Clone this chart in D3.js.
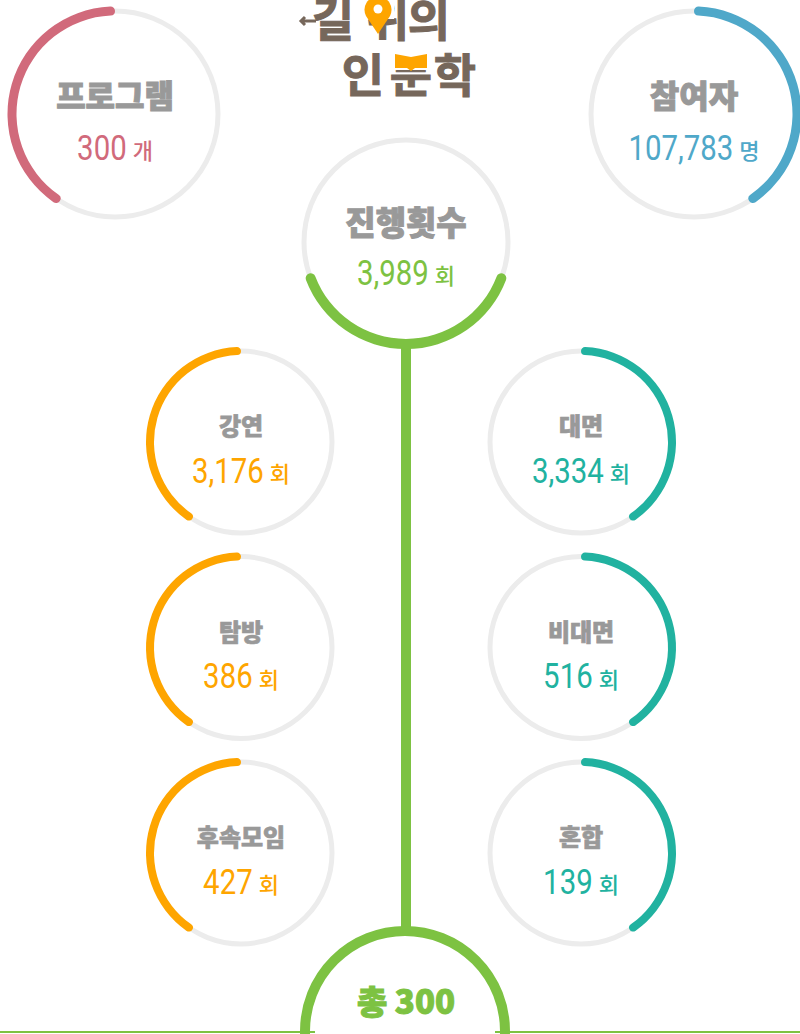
<!DOCTYPE html>
<html>
<head>
<meta charset="utf-8">
<script src="https://cdn.jsdelivr.net/npm/d3@7"></script>
<style>
  html, body { margin: 0; padding: 0; background: #fff; }
  svg { display: block; }
</style>
</head>
<body>
<script>
const width = 800,
  height = 1034;

// top row: programmes and participants
const summaryLabels = ["프로그램", "참여자"];
const summaryValues = [300, 107783];
const summaryUnits = ["개", "명"];

// centre: number of sessions
const totalLabel = "진행횟수";
const totalValue = 3989;

// left column (by type), right column (by format)
const typeLabels = ["강연", "탐방", "후속모임"];
const typeValues = [3176, 386, 427];
const formatLabels = ["대면", "비대면", "혼합"];
const formatValues = [3334, 516, 139];
const countUnit = "회";

const footerLabel = "총";
const footerValue = 300;

// logo, one syllable at a time
const logoTop = ["길", "위", "의"];
const logoBottom = ["인", "문", "학"];

// part of each ring that is coloured
const ringShare = 0.41;
const hubShare = 0.40;

const colors = {
  program: "#d16a7b",
  people: "#4fa8c9",
  total: "#7dc242",
  type: "#fea500",
  format: "#21b2a0",
  label: "#999999",
  track: "#ececec",
  logo: "#76675b",
  logoAccent: "#fea500"
};

const fmt = d3.format(",");
const angle = d3.scaleLinear().domain([0, 1]).range([0, 2 * Math.PI]);
const rowY = d3.scaleLinear().domain([0, 2]).range([442, 853]);

const svg = d3
  .select("body")
  .append("svg")
    .attr("width", width)
    .attr("height", height);

function ring(cx, cy, r, color, start, end, thick) {
  const half = thick / 2;
  const g = svg.append("g").attr("transform", "translate(" + cx + "," + cy + ")");

  g.append("circle")
    .attr("r", r)
    .attr("fill", "none")
    .attr("stroke", colors.track)
    .attr("stroke-width", 5);

  g.append("path")
    .attr("fill", color)
    .attr("d", d3.arc().cornerRadius(half)({
      innerRadius: r - half, outerRadius: r + half, startAngle: start, endAngle: end
    }));

  return g;
}

function label(g, y, text, size) {
  g.append("text")
    .attr("y", y)
    .attr("text-anchor", "middle")
    .attr("font-family", "'Noto Sans CJK KR', sans-serif")
    .attr("font-weight", 900)
    .attr("font-size", size)
    .attr("fill", colors.label)
    .attr("stroke", colors.label)
    .attr("stroke-width", size > 28 ? 1 : 0.7)
    .text(text);
}

// number in a narrow face + small unit, centred together
function value(g, y, v, unit, color) {
  const squeeze = 0.84;
  const num = g.append("text")
    .attr("transform", "scale(" + squeeze + ",1)")
    .attr("y", y)
    .attr("font-family", "Roboto, sans-serif")
    .attr("font-size", 35)
    .attr("fill", color)
    .text(fmt(v));
  const u = g.append("text")
    .attr("y", y - 1)
    .attr("font-family", "'Noto Sans CJK KR', sans-serif")
    .attr("font-weight", 500)
    .attr("font-size", 22)
    .attr("fill", color)
    .text(unit);

  const nw = num.node().getComputedTextLength() * squeeze,
    uw = u.node().getComputedTextLength(),
    gap = 6,
    left = -(nw + gap + uw) / 2;

  num.attr("x", left / squeeze);
  u.attr("x", left + nw + gap);
}

// --- top row
const topX = [115, 694];
summaryLabels.forEach((d, i) => {
  const c = i === 0 ? colors.program : colors.people;
  const sign = i === 0 ? -1 : 1;
  const g = ring(topX[i], 114, 103, c, 0, sign * angle(ringShare), 9);
  label(g, -6, d, 32);
  value(g, 46, summaryValues[i], summaryUnits[i], c);
});

// --- stem between hub and footer
svg.append("line")
  .attr("x1", 406).attr("x2", 406)
  .attr("y1", 340).attr("y2", 932)
  .attr("stroke", colors.total)
  .attr("stroke-width", 10);

// --- hub
const hubHalf = angle(hubShare) / 2;
const hub = ring(406, 242, 102, colors.total, Math.PI - hubHalf, Math.PI + hubHalf, 10);
label(hub, -7, totalLabel, 33);
value(hub, 43, totalValue, countUnit, colors.total);

// --- two columns
typeLabels.forEach((d, i) => {
  const g = ring(241, rowY(i), 91, colors.type, 0, -angle(ringShare), 8);
  label(g, -7, d, 24);
  value(g, 41, typeValues[i], countUnit, colors.type);
});

formatLabels.forEach((d, i) => {
  const g = ring(581, rowY(i), 91, colors.format, 0, angle(ringShare), 8);
  label(g, -7, d, 24);
  value(g, 41, formatValues[i], countUnit, colors.format);
});

// --- footer
const footR = 100, footX = 405, footY = 1031;
svg.append("line")
  .attr("x1", 0).attr("x2", footX - footR + 10)
  .attr("y1", 1032).attr("y2", 1032)
  .attr("stroke", colors.total).attr("stroke-width", 2);
svg.append("line")
  .attr("x1", footX + footR - 10).attr("x2", width)
  .attr("y1", 1032).attr("y2", 1032)
  .attr("stroke", colors.total).attr("stroke-width", 2);
svg.append("circle")
  .attr("cx", footX).attr("cy", footY).attr("r", footR)
  .attr("fill", "none")
  .attr("stroke", colors.total)
  .attr("stroke-width", 10);
svg.append("text")
  .attr("x", 406).attr("y", 1014)
  .attr("text-anchor", "middle")
  .attr("font-family", "'Noto Sans CJK KR', sans-serif")
  .attr("font-weight", 900)
  .attr("font-size", 33)
  .attr("fill", colors.total)
  .attr("stroke", colors.total)
  .attr("stroke-width", 1)
  .text(footerLabel + " " + footerValue);

// --- logo
const logo = svg.append("g")
  .attr("font-family", "'Noto Sans CJK KR', sans-serif")
  .attr("font-weight", 700)
  .attr("font-size", 46)
  .attr("text-anchor", "middle")
  .attr("fill", colors.logo)
  .attr("stroke", colors.logo)
  .attr("stroke-width", 1);

const topSlot = d3.scaleOrdinal().domain(logoTop).range([333, 388, 429]);
const bottomSlot = d3.scaleOrdinal().domain(logoBottom).range([363, 411, 455]);

logo.selectAll(".top")
  .data(logoTop)
  .join("text")
    .attr("class", "top")
    .attr("x", d => topSlot(d))
    .attr("y", 36)
    .text(d => d);

logo.selectAll(".bottom")
  .data(logoBottom)
  .join("text")
    .attr("class", "bottom")
    .attr("x", d => bottomSlot(d))
    .attr("y", 92)
    .text(d => d);

// arrow tail on 길
logo.append("path")
  .attr("d", "M301,21 L316,21 M305,17 L301,21 L305,25")
  .attr("fill", "none")
  .attr("stroke-width", 3);

// pin over 위
const pinX = topSlot("위") - 10;
logo.append("rect").attr("x", pinX - 16).attr("y", -5).attr("width", 32).attr("height", 24)
  .attr("fill", "#fff").attr("stroke", "none");
logo.append("path")
  .attr("d", "M" + pinX + ",34 L" + (pinX - 12) + ",16 A13.5,13.5 0 1 1 " + (pinX + 12) + ",16 Z")
  .attr("fill", colors.logoAccent).attr("stroke", "none");
logo.append("circle").attr("cx", pinX).attr("cy", 9).attr("r", 4.5)
  .attr("fill", "#fff").attr("stroke", "none");

// book over 문
const bookX = bottomSlot("문");
logo.append("rect").attr("x", bookX - 20).attr("y", 49).attr("width", 40).attr("height", 21)
  .attr("fill", "#fff").attr("stroke", "none");
logo.append("path")
  .attr("d", "M" + (bookX - 16) + ",54 L" + bookX + ",57 L" + (bookX + 16) + ",54 L" + (bookX + 16) + ",68 L"
    + (bookX + 4) + ",68 L" + bookX + ",71 L" + (bookX - 4) + ",68 L" + (bookX - 16) + ",68 Z")
  .attr("fill", colors.logoAccent).attr("stroke", "none");
</script>
</body>
</html>
